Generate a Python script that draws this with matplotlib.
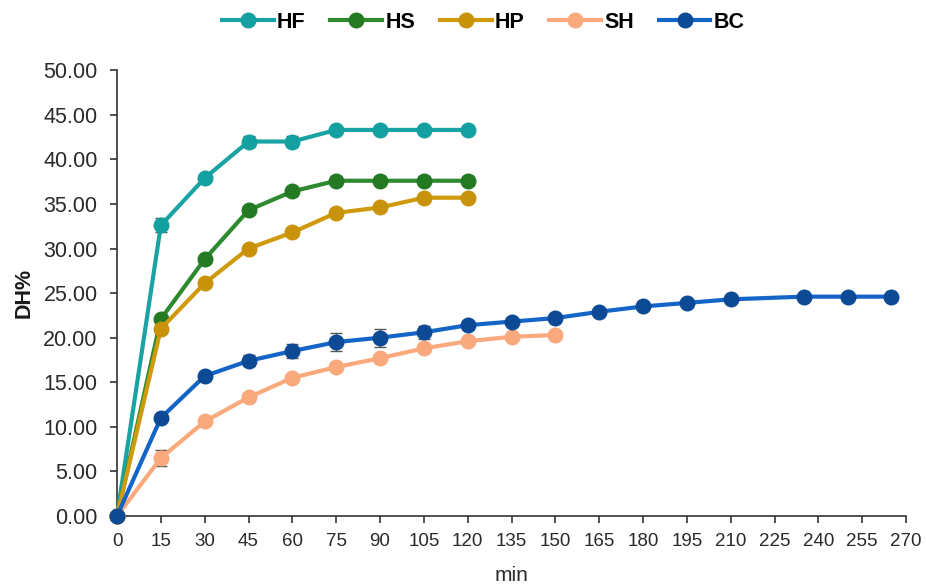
import matplotlib
matplotlib.use("Agg")
import matplotlib.pyplot as plt
import numpy as np

plt.rcParams['font.family'] = ['Liberation Sans', 'DejaVu Sans']

# 数据
t_short = [0, 15, 30, 45, 60, 75, 90, 105, 120]
t_sh = [0, 15, 30, 45, 60, 75, 90, 105, 120, 135, 150]
t_bc = [0, 15, 30, 45, 60, 75, 90, 105, 120, 135, 150, 165, 180, 195, 210, 235, 250, 265]

hf = [0, 32.6, 37.9, 42.0, 42.0, 43.3, 43.3, 43.3, 43.3]
hf_err = [0, 0.8, 0.3, 0.6, 0.6, 0.3, 0.3, 0.3, 0.3]
hs = [0, 22.1, 28.8, 34.3, 36.4, 37.6, 37.6, 37.6, 37.6]
hs_err = [0, 0.3, 0.4, 0.4, 0.5, 0.5, 0.5, 0.5, 0.5]
hp = [0, 21.0, 26.1, 30.0, 31.8, 34.0, 34.6, 35.7, 35.7]
hp_err = [0, 0.4, 0.3, 0.3, 0.4, 0.4, 0.3, 0.3, 0.3]
sh = [0, 6.5, 10.6, 13.3, 15.5, 16.7, 17.7, 18.8, 19.6, 20.1, 20.3]
sh_err = [0, 0.9, 0.4, 0.3, 0.3, 0.3, 0.3, 0.3, 0.3, 0.3, 0.3]
bc = [0, 11.0, 15.7, 17.4, 18.5, 19.5, 20.0, 20.6, 21.4, 21.8, 22.2, 22.9, 23.5, 23.9, 24.3, 24.6, 24.6, 24.6]
bc_err = [0, 0.3, 0.3, 0.6, 0.8, 1.0, 1.0, 0.7, 0.4, 0.3, 0.3, 0.2, 0.2, 0.2, 0.2, 0.2, 0.2, 0.2]

xticks = list(range(0, 271, 15))
yticks = np.arange(0, 50.01, 5)

fig = plt.figure(figsize=(9.26, 5.85), dpi=100)
ax = fig.add_axes([0.1264, 0.118, 0.852, 0.762])

series = [
    ("HF", t_short, hf, hf_err, '#1aa3a3', '#13a0a0'),
    ("HS", t_short, hs, hs_err, '#2e8a2e', '#237a23'),
    ("HP", t_short, hp, hp_err, '#cf9a0c', '#c8920a'),
    ("SH", t_sh, sh, sh_err, '#f9a97c', '#f9a97c'),
    ("BC", t_bc, bc, bc_err, '#1565c8', '#0d4a96'),
]
for name, x, y, e, c, mc in series:
    ax.errorbar(x, y, yerr=e, color=c, lw=3, marker='o', markersize=10.5,
                markerfacecolor=mc, markeredgecolor=mc, ecolor='#555555',
                elinewidth=1, capsize=4, label=name, zorder=3, clip_on=False)

ax.set_xlim(0, 270)
ax.set_ylim(0, 50)
ax.set_xticks(xticks)
ax.set_yticks(yticks)
ax.set_yticklabels(['%.2f' % v for v in yticks])
ax.spines['top'].set_visible(False)
ax.spines['right'].set_visible(False)
for s in ['left', 'bottom']:
    ax.spines[s].set_color('#333333')
    ax.spines[s].set_linewidth(1.2)
ax.tick_params(axis='both', colors='#333333', labelcolor='#2a2a2a', length=5, width=1.2)
ax.tick_params(axis='y', labelsize=15.5, pad=9)
ax.tick_params(axis='x', labelsize=13.5, pad=7)

ax.set_xlabel('min', fontsize=15, color='#2a2a2a', labelpad=12)
ax.set_ylabel('DH%', fontsize=15.5, fontweight='bold', color='#1a1a1a', labelpad=6)

handles, labels = ax.get_legend_handles_labels()
handles = [h[0] for h in handles]
leg = fig.legend(handles, labels, loc='center', bbox_to_anchor=(0.522, 0.962), ncol=5,
                 frameon=False, handlelength=2.4, handletextpad=0.15, columnspacing=1.15,
                 prop={'weight': 'bold', 'size': 15.5})

plt.savefig('out.png', dpi=100)
